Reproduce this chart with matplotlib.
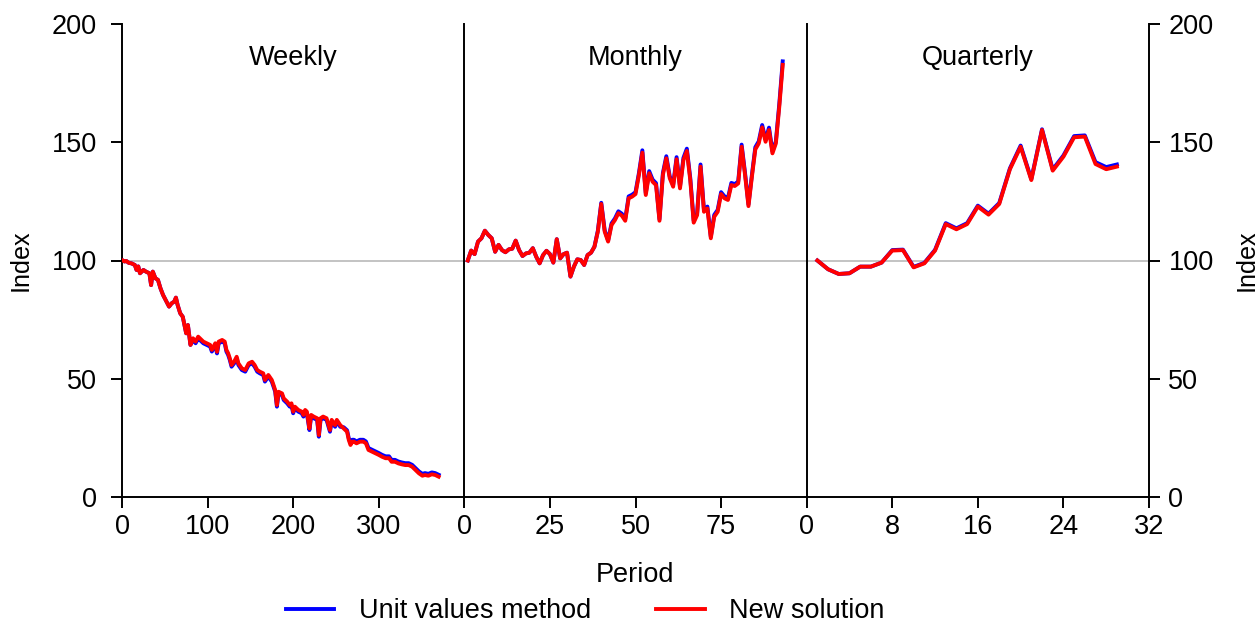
import matplotlib
matplotlib.use("Agg")
import matplotlib.pyplot as plt
from matplotlib.lines import Line2D

plt.rcParams['font.family'] = ['Liberation Sans', 'DejaVu Sans']

# ---------------- data ----------------
weekly_period = [1, 3, 5, 8, 11, 15, 17, 19, 21, 25,
                 28, 32, 34, 36, 39, 42, 45, 48, 52, 55,
                 58, 61, 63, 65, 68, 71, 73, 75, 77, 80,
                 83, 86, 89, 91, 95, 99, 103, 105, 109, 111,
                 113, 117, 120, 122, 124, 126, 128, 131, 134, 136,
                 140, 144, 148, 152, 155, 158, 161, 165, 167, 171,
                 175, 177, 179, 181, 183, 187, 189, 193, 196, 198,
                 200, 202, 206, 210, 212, 214, 216, 219, 221, 224,
                 228, 230, 232, 235, 239, 243, 245, 249, 251, 255,
                 259, 263, 265, 267, 269, 271, 274, 278, 282, 285,
                 288, 292, 296, 300, 304, 308, 312, 315, 319, 323,
                 327, 331, 335, 339, 343, 347, 351, 354, 358, 362,
                 366, 370]
weekly_new = [100, 99.6, 99.8, 99, 98.8, 98.1, 96, 97.5, 94.6, 96,
              95.3, 94.6, 89.6, 95.3, 92.5, 91.8, 88.2, 85.4, 82.6, 80.5,
              81.9, 82.6, 84.3, 81.2, 77.7, 76.2, 72.7, 69.2, 72.7, 64.3,
              67.1, 65.7, 67.8, 67.1, 65.7, 65, 64.3, 62.2, 65, 61.4,
              65.7, 66.4, 65.7, 62.2, 60.8, 58.6, 55.8, 57.2, 59.3, 56.5,
              54.4, 53.7, 56.5, 57.2, 55.8, 53.7, 53, 52.3, 49.5, 51.6,
              49.5, 47.4, 45.2, 38.9, 44.5, 43.8, 41.7, 40.3, 38.9, 39.6,
              36.1, 38.2, 36.8, 36.1, 34.7, 36.8, 36.1, 29, 34.7, 34,
              33.3, 26.2, 33.3, 34, 33.3, 28.3, 32.6, 30.4, 32.6, 30.4,
              29, 27.6, 24.1, 22, 23.4, 23.4, 22.7, 23.4, 23.4, 22.7,
              19.9, 19.2, 18.5, 17.8, 17, 16.4, 16.4, 14.9, 14.9, 14.2,
              13.8, 13.5, 13.5, 12.8, 11.4, 10, 9, 9.3, 9, 9.6,
              9.3, 8.6]
weekly_uv = [100, 99.6, 99.8, 99, 98.8, 98.1, 96, 97.5, 94.6, 96,
             95.3, 94.6, 89.6, 95.3, 92.5, 91.8, 88.2, 85.4, 82.6, 80.5,
             81.9, 82.6, 84.3, 81.2, 77.7, 76.2, 72.7, 69.2, 72.7, 64.3,
             66.4, 65, 67.1, 66.4, 65, 64.3, 63.6, 61.5, 64.3, 60.7,
             65, 65.7, 65, 61.5, 60.1, 57.9, 55.1, 56.5, 58.6, 55.8,
             53.7, 53, 55.8, 56.5, 55.1, 53, 52.3, 51.6, 48.8, 50.9,
             48.8, 46.7, 44.5, 38.2, 43.8, 43.1, 41, 39.6, 38.2, 38.9,
             35.4, 37.5, 36.1, 35.4, 34, 36.1, 35.4, 28.3, 34, 33.3,
             32.6, 25.5, 32.6, 33.3, 32.6, 27.6, 31.9, 29.7, 31.9, 29.7,
             29.5, 28.2, 24.8, 22.8, 24.2, 24.2, 23.5, 24.2, 24.2, 23.5,
             20.7, 20, 19.3, 18.6, 17.8, 17.2, 17.2, 15.7, 15.7, 15,
             14.6, 14.3, 14.3, 13.6, 12.2, 10.8, 9.8, 10.1, 9.8, 10.4,
             10.1, 9.4]

monthly_period = list(range(1, 94))
monthly_new = [100, 104.2, 102.7, 108, 109.4, 112.6, 110.8, 109.4, 103.7, 106.6,
               104.4, 103.5, 104.7, 105, 108.4, 104.4, 101.9, 103, 103.3, 105.2,
               101.6, 98.8, 102.3, 104.1, 102.7, 99.1, 109, 100.9, 102.7, 103.3,
               93.2, 97.4, 100.5, 100.2, 98.1, 102.3, 103.3, 105.8, 112.2, 123.9,
               112.2, 108, 115, 117.1, 120, 119, 116.8, 126.3, 127, 128.1,
               136.2, 145.6, 127.7, 136.9, 133.3, 131.9, 116.8, 136.2, 143.2, 134.8,
               131.2, 142.8, 130.5, 142.5, 146.3, 134, 116, 119.2, 139.7, 120.6,
               122, 109.4, 118.5, 120.6, 128.1, 126.3, 125.6, 131.9, 131.5, 132.6,
               148.1, 136.2, 123, 135.4, 147, 149.5, 156.3, 150.2, 155.2, 145.3,
               149.5, 165, 182.7]
monthly_uv = [100, 104.2, 102.7, 108, 109.4, 112.6, 110.8, 109.4, 103.7, 106.6,
              104.4, 103.5, 104.7, 105, 108.4, 104.4, 101.9, 103, 103.3, 105.2,
              101.6, 98.8, 102.3, 104.1, 102.7, 99.1, 109, 100.9, 102.7, 103.3,
              93.2, 97.4, 100.5, 100.2, 98.1, 102.3, 103.3, 105.8, 112.6, 124.4,
              112.8, 108.5, 115.7, 117.8, 120.8, 119.8, 117.5, 127.1, 127.8, 128.9,
              137, 146.6, 128.5, 137.8, 134.2, 132.7, 117.5, 137, 144.1, 135.6,
              132, 143.7, 131.3, 143.4, 147.3, 134.9, 116.8, 120, 140.6, 121.4,
              122.8, 110.1, 119.3, 121.4, 128.9, 127.1, 126.4, 132.8, 132.3, 133.4,
              149, 137, 123.7, 136.2, 147.9, 150.4, 157.3, 151.1, 156.2, 146.2,
              150.4, 166.2, 184.2]

quarterly_period = list(range(1, 30))
quarterly_new = [100, 96.3, 94.3, 94.6, 97.4, 97.4, 99.1, 104.2, 104.4, 97.1,
                 98.8, 104.2, 115.4, 113.2, 115.4, 122.8, 119.4, 123.9, 138.6, 148.1,
                 134, 155.2, 138, 143.9, 152.1, 152.4, 140.8, 138.6, 139.7]
quarterly_uv = [100, 96.3, 94.3, 94.6, 97.4, 97.4, 99.1, 104.4, 104.6, 97.3,
                99, 104.5, 115.8, 113.6, 115.8, 123.2, 119.8, 124.3, 139, 148.6,
                134.4, 155.5, 138.5, 144.4, 152.6, 152.9, 141.6, 139.5, 140.6]

panel_titles = ["Weekly", "Monthly", "Quarterly"]
panel_xlims = [(0, 400), (0, 100), (0, 32)]
panel_xticks = [[0, 100, 200, 300], [0, 25, 50, 75], [0, 8, 16, 24, 32]]
y_ticks = [0, 50, 100, 150, 200]
series_labels = ["Unit values method", "New solution"]

# ---------------- plot ----------------
FS = 19.5
LW = 2.8
fig = plt.figure(figsize=(12.6, 6.26), dpi=100)
axes = fig.subplots(1, 3, sharey=True, gridspec_kw=dict(wspace=0))
fig.subplots_adjust(left=122/1260, right=1149/1260, top=1-24/626, bottom=1-497/626)

data = [(weekly_period, weekly_uv, weekly_new),
        (monthly_period, monthly_uv, monthly_new),
        (quarterly_period, quarterly_uv, quarterly_new)]

for i, ax in enumerate(axes):
    x, uv, new = data[i]
    ax.axhline(100, color='#bebebe', lw=1.3, zorder=1)
    ax.plot(x, uv, color='#0000ff', lw=LW, zorder=2, solid_joinstyle='round')
    ax.plot(x, new, color='#ff0000', lw=LW, zorder=3, solid_joinstyle='round')
    ax.set_xlim(*panel_xlims[i])
    ax.set_ylim(0, 200)
    ax.set_xticks(panel_xticks[i])
    ax.set_yticks(y_ticks)
    ax.text(0.5, 0.928, panel_titles[i], transform=ax.transAxes,
            ha='center', va='center', fontsize=FS)
    ax.spines['top'].set_visible(False)
    ax.spines['right'].set_visible(i == 2)
    for s in ax.spines.values():
        s.set_linewidth(1.4)
    ax.tick_params(axis='x', direction='out', length=8, width=1.4,
                   labelsize=FS, pad=4)
    if i == 0:
        ax.tick_params(axis='y', direction='out', length=8, width=1.4,
                       labelsize=FS, left=True, right=False, labelleft=True, pad=10)
        ax.set_ylabel("Index", fontsize=FS*0.93, labelpad=14)
    elif i == 1:
        ax.tick_params(axis='y', left=False, right=False,
                       labelleft=False, labelright=False)
    else:
        ax.tick_params(axis='y', direction='out', length=8, width=1.4,
                       labelsize=FS, left=False, right=True,
                       labelleft=False, labelright=True, pad=6)
        ax.yaxis.set_label_position('right')
        ax.set_ylabel("Index", fontsize=FS*0.93, labelpad=15, rotation=90)

axes[1].set_xlabel("Period", fontsize=FS, labelpad=16)

handles = [Line2D([], [], color='#0000ff', lw=LW),
           Line2D([], [], color='#ff0000', lw=LW)]
fig.legend(handles, series_labels, loc='center',
           bbox_to_anchor=(585/1260, 1-611/626), ncol=2, frameon=False,
           fontsize=FS, handlelength=1.8, handletextpad=0.9, columnspacing=2.4,
           borderpad=0.1)

fig.savefig("out.png", dpi=100)
